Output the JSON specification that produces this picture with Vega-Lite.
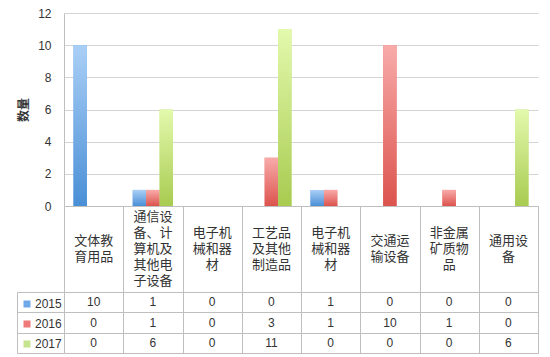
{
  "$schema": "https://vega.github.io/schema/vega-lite/v6.json",
  "padding": {"left": 16, "top": 7, "right": 5, "bottom": 4},
  "config": {
    "view": {"stroke": null},
    "font": "Liberation Sans"
  },
  "datasets": {
    "d": [
      {"idx": 1, "category": "文体教育用品", "year": "2015", "value": 10},
      {"idx": 1, "category": "文体教育用品", "year": "2016", "value": 0},
      {"idx": 1, "category": "文体教育用品", "year": "2017", "value": 0},
      {"idx": 2, "category": "通信设备、计算机及其他电子设备", "year": "2015", "value": 1},
      {"idx": 2, "category": "通信设备、计算机及其他电子设备", "year": "2016", "value": 1},
      {"idx": 2, "category": "通信设备、计算机及其他电子设备", "year": "2017", "value": 6},
      {"idx": 3, "category": "电子机械和器材", "year": "2015", "value": 0},
      {"idx": 3, "category": "电子机械和器材", "year": "2016", "value": 0},
      {"idx": 3, "category": "电子机械和器材", "year": "2017", "value": 0},
      {"idx": 4, "category": "工艺品及其他制造品", "year": "2015", "value": 0},
      {"idx": 4, "category": "工艺品及其他制造品", "year": "2016", "value": 3},
      {"idx": 4, "category": "工艺品及其他制造品", "year": "2017", "value": 11},
      {"idx": 5, "category": "电子机械和器材", "year": "2015", "value": 1},
      {"idx": 5, "category": "电子机械和器材", "year": "2016", "value": 1},
      {"idx": 5, "category": "电子机械和器材", "year": "2017", "value": 0},
      {"idx": 6, "category": "交通运输设备", "year": "2015", "value": 0},
      {"idx": 6, "category": "交通运输设备", "year": "2016", "value": 10},
      {"idx": 6, "category": "交通运输设备", "year": "2017", "value": 0},
      {"idx": 7, "category": "非金属矿质物品", "year": "2015", "value": 0},
      {"idx": 7, "category": "非金属矿质物品", "year": "2016", "value": 1},
      {"idx": 7, "category": "非金属矿质物品", "year": "2017", "value": 0},
      {"idx": 8, "category": "通用设备", "year": "2015", "value": 0},
      {"idx": 8, "category": "通用设备", "year": "2016", "value": 0},
      {"idx": 8, "category": "通用设备", "year": "2017", "value": 6}
    ]
  },
  "bounds": "flush",
  "spacing": 0,
  "resolve": {"scale": {"color": "independent"}, "legend": {"color": "independent"}},
  "vconcat": [
    {
      "width": 474,
      "height": 193,
      "data": {"name": "d"},
      "encoding": {
        "x": {
          "field": "idx", "type": "ordinal",
          "scale": {"paddingInner": 0.32, "paddingOuter": 0.16},
          "axis": {"labels": false, "ticks": false, "title": null, "domainColor": "#bfbfbf", "grid": false}
        },
        "xOffset": {"field": "year", "type": "nominal", "scale": {"domain": ["2015", "2016", "2017"], "paddingInner": 0, "paddingOuter": 0}},
        "y": {
          "field": "value", "type": "quantitative",
          "scale": {"domain": [0, 12]},
          "axis": {
            "title": "数量", "values": [0, 2, 4, 6, 8, 10, 12],
            "ticks": false, "domainColor": "#bfbfbf", "gridColor": "#d4d4d4",
            "labelPadding": 13, "labelFontSize": 12, "labelColor": "#333333", "labelFont": "Liberation Sans",
            "titleFont": "Noto Sans CJK SC", "titleFontSize": 12, "titleFontWeight": "bold", "titleColor": "#333333", "titlePadding": 7
          }
        }
      },
      "layer": [
        {
          "mark": {"type": "bar"},
          "encoding": {
            "color": {
              "field": "year", "type": "nominal",
              "scale": {"domain": ["2015", "2016", "2017"], "range": ["#6fa8e8", "#ee7b79", "#c5e48c"]},
              "legend": {
                "orient": "none", "legendX": -43, "legendY": 285, "title": null,
                "symbolType": "square", "symbolSize": 49, "symbolStrokeWidth": 0,
                "labelFontSize": 12, "labelFont": "Liberation Sans", "labelColor": "#333333",
                "rowPadding": 8, "padding": 0, "labelOffset": 2
              }
            }
          }
        },
        {
          "transform": [{"filter": "datum.year == '2015'"}],
          "mark": {"type": "bar", "color": {"gradient": "linear", "x1": 0, "y1": 0, "x2": 0, "y2": 1, "stops": [{"offset": 0, "color": "#aacff6"}, {"offset": 1, "color": "#4a8fd6"}]}}
        },
        {
          "transform": [{"filter": "datum.year == '2016'"}],
          "mark": {"type": "bar", "color": {"gradient": "linear", "x1": 0, "y1": 0, "x2": 0, "y2": 1, "stops": [{"offset": 0, "color": "#f8abaa"}, {"offset": 1, "color": "#dc534d"}]}}
        },
        {
          "transform": [{"filter": "datum.year == '2017'"}],
          "mark": {"type": "bar", "color": {"gradient": "linear", "x1": 0, "y1": 0, "x2": 0, "y2": 1, "stops": [{"offset": 0, "color": "#e3f9ad"}, {"offset": 1, "color": "#a8cb50"}]}}
        }
      ]
    },
    {
      "width": 474,
      "height": 86,
      "data": {"name": "d"},
      "transform": [
        {"filter": "datum.year == '2015'"},
        {"calculate": "replace(datum.category, regexp('(...)(?=.)', 'g'), '$1\\n')", "as": "label"},
        {"calculate": "ceil(length(datum.category) / 3)", "as": "nlines"}
      ],
      "mark": {"type": "text", "font": "Noto Sans CJK SC", "fontSize": 13, "lineHeight": 16, "lineBreak": "\n", "baseline": "middle", "color": "#333333"},
      "encoding": {
        "x": {
          "field": "idx", "type": "ordinal",
          "scale": {"paddingInner": 0, "paddingOuter": 0},
          "axis": {"labels": false, "ticks": false, "domain": false, "title": null, "grid": true, "tickBand": "extent", "gridColor": "#bfbfbf"}
        },
        "y": {"field": "nlines", "type": "quantitative", "scale": {"domain": [-4.375, 6.375]}, "axis": null},
        "text": {"field": "label", "type": "nominal"}
      }
    },
    {
      "width": 474,
      "height": 61,
      "data": {"name": "d"},
      "mark": {"type": "text", "fontSize": 12, "font": "Liberation Sans", "color": "#333333"},
      "encoding": {
        "x": {
          "field": "idx", "type": "ordinal",
          "scale": {"paddingInner": 0, "paddingOuter": 0},
          "axis": {"labels": false, "ticks": false, "domain": false, "title": null, "grid": true, "tickBand": "extent", "gridColor": "#bfbfbf"}
        },
        "y": {
          "field": "year", "type": "nominal",
          "scale": {"paddingInner": 0, "paddingOuter": 0},
          "axis": {"labels": false, "title": null, "grid": true, "gridColor": "#bfbfbf", "tickBand": "extent", "offset": 47, "tickSize": -47, "tickColor": "#bfbfbf", "domainColor": "#bfbfbf"}
        },
        "text": {"field": "value", "type": "quantitative"}
      }
    }
  ]
}
